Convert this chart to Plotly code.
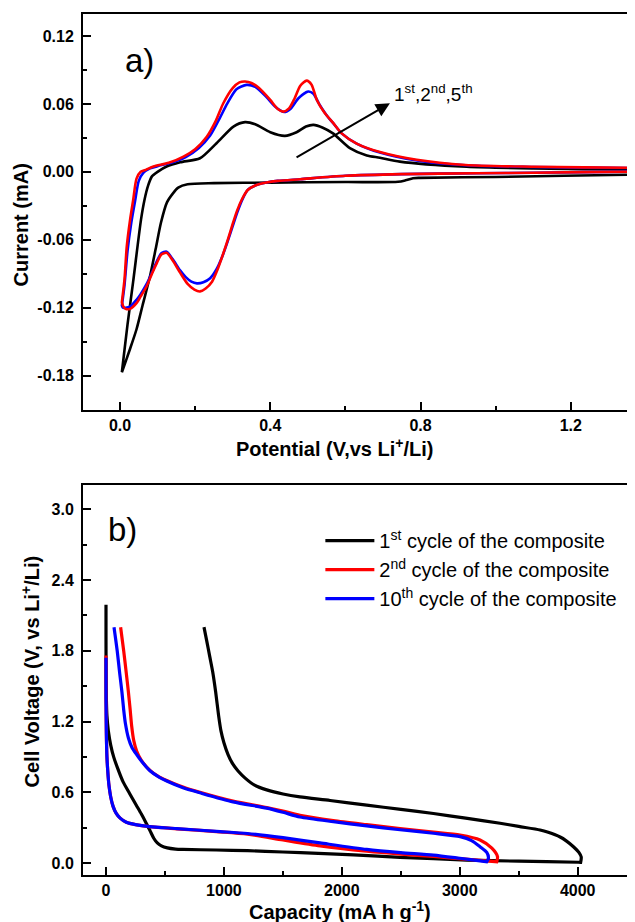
import plotly.graph_objects as go

# ---------------- (a) cyclic voltammetry ----------------
cv1_cath_v = [1.50, 1.37, 1.00, 0.80, 0.78, 0.76, 0.74, 0.60, 0.40, 0.25, 0.18, 0.155, 0.141, 0.125, 0.109, 0.095, 0.08, 0.06, 0.044, 0.025, 0.005]
cv1_cath_i = [-0.0022, -0.0025, -0.0045, -0.0053, -0.0056, -0.0075, -0.0088, -0.009, -0.0095, -0.010, -0.011, -0.014, -0.019, -0.027, -0.045, -0.068, -0.092, -0.118, -0.139, -0.158, -0.177]
cv1_anod_v = [0.005, 0.02, 0.035, 0.056, 0.065, 0.075, 0.085, 0.10, 0.124, 0.16, 0.213, 0.257, 0.302, 0.333, 0.36, 0.40, 0.439, 0.47, 0.495, 0.515, 0.54, 0.567, 0.612, 0.657, 0.692, 0.745, 0.923, 1.10, 1.37, 1.50]
cv1_anod_i = [-0.177, -0.135, -0.097, -0.042, -0.025, -0.012, -0.004, 0.0, 0.0047, 0.0085, 0.012, 0.0253, 0.040, 0.0439, 0.042, 0.035, 0.0318, 0.035, 0.040, 0.0415, 0.039, 0.034, 0.021, 0.0145, 0.0125, 0.009, 0.0045, 0.003, 0.002, 0.002]

cv2_cath_v = [1.50, 1.37, 1.10, 0.95, 0.75, 0.60, 0.48, 0.42, 0.39, 0.36, 0.34, 0.325, 0.312, 0.30, 0.288, 0.274, 0.26, 0.245, 0.228, 0.213, 0.198, 0.18, 0.16, 0.14, 0.124, 0.11, 0.098, 0.085, 0.071, 0.055, 0.044, 0.027, 0.015, 0.009, 0.005]
cv2_cath_i = [0.0, 0.0002, -0.0008, -0.0012, -0.002, -0.0035, -0.0065, -0.008, -0.0094, -0.012, -0.016, -0.024, -0.034, -0.046, -0.059, -0.073, -0.086, -0.097, -0.103, -0.1056, -0.104, -0.099, -0.089, -0.078, -0.0715, -0.073, -0.0806, -0.090, -0.101, -0.110, -0.116, -0.121, -0.121, -0.119, -0.115]
cv2_anod_v = [0.005, 0.012, 0.018, 0.027, 0.035, 0.044, 0.055, 0.07, 0.089, 0.13, 0.169, 0.20, 0.231, 0.255, 0.275, 0.30, 0.318, 0.333, 0.35, 0.37, 0.40, 0.42, 0.435, 0.45, 0.465, 0.48, 0.497, 0.51, 0.524, 0.545, 0.568, 0.59, 0.63, 0.692, 0.79, 0.92, 1.10, 1.37, 1.50]
cv2_anod_i = [-0.115, -0.095, -0.066, -0.042, -0.025, -0.006, 0.0, 0.002, 0.0047, 0.008, 0.0135, 0.020, 0.031, 0.045, 0.0606, 0.074, 0.079, 0.0798, 0.0785, 0.074, 0.0635, 0.0555, 0.0532, 0.056, 0.065, 0.076, 0.0806, 0.077, 0.0635, 0.052, 0.043, 0.034, 0.025, 0.0175, 0.0106, 0.006, 0.0045, 0.0035, 0.0032]

cv5_cath_v = [1.50, 1.37, 1.10, 0.95, 0.75, 0.60, 0.48, 0.42, 0.39, 0.36, 0.34, 0.325, 0.312, 0.30, 0.287, 0.272, 0.257, 0.24, 0.222, 0.205, 0.19, 0.175, 0.16, 0.14, 0.124, 0.11, 0.098, 0.085, 0.071, 0.055, 0.044, 0.027, 0.015, 0.008, 0.005]
cv5_cath_i = [0.0, 0.0002, -0.0008, -0.0012, -0.002, -0.0035, -0.0065, -0.008, -0.0094, -0.012, -0.016, -0.025, -0.036, -0.048, -0.061, -0.075, -0.086, -0.094, -0.0975, -0.0985, -0.097, -0.093, -0.087, -0.077, -0.0705, -0.072, -0.079, -0.089, -0.099, -0.108, -0.113, -0.119, -0.120, -0.120, -0.118]
cv5_anod_v = [0.005, 0.012, 0.02, 0.03, 0.04, 0.05, 0.062, 0.08, 0.10, 0.14, 0.175, 0.21, 0.24, 0.265, 0.285, 0.31, 0.337, 0.36, 0.39, 0.415, 0.437, 0.455, 0.475, 0.501, 0.515, 0.53, 0.55, 0.57, 0.59, 0.63, 0.692, 0.79, 0.92, 1.10, 1.37, 1.50]
cv5_anod_i = [-0.118, -0.100, -0.070, -0.045, -0.026, -0.008, -0.001, 0.003, 0.005, 0.0085, 0.013, 0.021, 0.032, 0.047, 0.060, 0.073, 0.0768, 0.075, 0.066, 0.057, 0.0528, 0.056, 0.065, 0.0709, 0.069, 0.060, 0.050, 0.042, 0.034, 0.025, 0.017, 0.010, 0.0058, 0.0043, 0.0033, 0.003]

# ---------------- (b) charge / discharge ----------------
gcd1_dis_cap = [0, 0, 1, 3, 8, 20, 40, 65, 100, 144, 200, 257, 300, 340, 375, 405, 435, 470, 520, 590, 650, 936, 1200, 1500, 1800, 2100, 2494, 3059, 3500, 4006, 4025]
gcd1_dis_v = [2.19, 1.90, 1.60, 1.40, 1.25, 1.12, 1.00, 0.90, 0.80, 0.69, 0.59, 0.49, 0.415, 0.34, 0.27, 0.21, 0.17, 0.145, 0.128, 0.118, 0.115, 0.110, 0.104, 0.093, 0.082, 0.068, 0.048, 0.025, 0.015, 0.006, 0.005]
gcd1_chg_cap = [4025, 4030, 4010, 3964, 3900, 3851, 3750, 3681, 3500, 3342, 3050, 2777, 2500, 2211, 1900, 1645, 1501, 1363, 1260, 1180, 1120, 1075, 1035, 1000, 975, 955, 930, 905, 880, 855, 831]
gcd1_chg_v = [0.005, 0.05, 0.09, 0.138, 0.19, 0.22, 0.26, 0.28, 0.31, 0.337, 0.38, 0.42, 0.455, 0.49, 0.53, 0.56, 0.585, 0.62, 0.66, 0.72, 0.78, 0.84, 0.92, 1.02, 1.12, 1.25, 1.45, 1.62, 1.75, 1.88, 2.00]

gcd2_dis_cap = [0, 0, 3, 8, 15, 25, 40, 60, 87, 120, 172, 250, 370, 600, 936, 1200, 1501, 1815, 2211, 2500, 2777, 3100, 3314]
gcd2_dis_v = [1.76, 1.40, 1.10, 0.90, 0.78, 0.66, 0.56, 0.48, 0.42, 0.38, 0.345, 0.325, 0.308, 0.29, 0.266, 0.245, 0.195, 0.145, 0.10, 0.075, 0.055, 0.028, 0.011]
gcd2_chg_cap = [3314, 3320, 3272, 3172, 3003, 2777, 2494, 2211, 1928, 1645, 1501, 1363, 1077, 797, 653, 515, 450, 373, 300, 260, 235, 218, 205, 190, 172, 150, 124]
gcd2_chg_v = [0.011, 0.053, 0.125, 0.195, 0.237, 0.262, 0.292, 0.325, 0.36, 0.405, 0.44, 0.47, 0.525, 0.60, 0.645, 0.70, 0.73, 0.785, 0.87, 0.95, 1.04, 1.16, 1.30, 1.45, 1.61, 1.80, 2.00]

gcd10_dis_cap = [0, 0, 3, 8, 15, 25, 40, 60, 87, 120, 172, 250, 370, 600, 936, 1200, 1501, 1815, 2211, 2500, 2777, 3000, 3229]
gcd10_dis_v = [1.74, 1.40, 1.10, 0.90, 0.78, 0.66, 0.56, 0.48, 0.42, 0.38, 0.345, 0.325, 0.308, 0.292, 0.268, 0.25, 0.215, 0.17, 0.115, 0.088, 0.067, 0.04, 0.011]
gcd10_chg_cap = [3229, 3243, 3229, 3172, 3100, 3003, 2777, 2494, 2211, 1928, 1645, 1501, 1363, 1077, 797, 653, 515, 450, 373, 300, 260, 220, 190, 165, 150, 135, 116, 95, 68]
gcd10_chg_v = [0.011, 0.04, 0.09, 0.138, 0.19, 0.223, 0.252, 0.282, 0.315, 0.35, 0.39, 0.43, 0.465, 0.518, 0.595, 0.638, 0.695, 0.728, 0.782, 0.865, 0.92, 0.98, 1.06, 1.18, 1.30, 1.45, 1.61, 1.80, 2.00]

# ---------------- tick labels ----------------
cv_x_ticks = [0.0, 0.4, 0.8, 1.2]
cv_x_labels = ["0.0", "0.4", "0.8", "1.2"]
cv_x_minor = [0.2, 0.6, 1.0]
cv_y_ticks = [-0.18, -0.12, -0.06, 0.0, 0.06, 0.12]
cv_y_labels = ["-0.18", "-0.12", "-0.06", "0.00", "0.06", "0.12"]
cv_y_minor = [-0.21, -0.15, -0.09, -0.03, 0.03, 0.09]
gcd_x_ticks = [0, 1000, 2000, 3000, 4000]
gcd_x_labels = ["0", "1000", "2000", "3000", "4000"]
gcd_x_minor = [500, 1500, 2500, 3500]
gcd_y_ticks = [0.0, 0.6, 1.2, 1.8, 2.4, 3.0]
gcd_y_labels = ["0.0", "0.6", "1.2", "1.8", "2.4", "3.0"]
gcd_y_minor = [0.3, 0.9, 1.5, 2.1, 2.7]

legend_names = ["1<sup>st</sup> cycle of the composite",
                "2<sup>nd</sup> cycle of the composite",
                "10<sup>th</sup> cycle of the composite"]
colors = ["#000000", "#ff0000", "#0000ff"]

FONT = "Arial, Liberation Sans, sans-serif"

fig = go.Figure()

cv_sets = [
    (cv1_cath_v + cv1_anod_v, cv1_cath_i + cv1_anod_i, colors[0]),
    (cv5_cath_v + cv5_anod_v, cv5_cath_i + cv5_anod_i, colors[2]),
    (cv2_cath_v + cv2_anod_v, cv2_cath_i + cv2_anod_i, colors[1]),
]
for xv, yv, c in cv_sets:
    fig.add_trace(go.Scatter(x=xv, y=yv, mode="lines", line=dict(color=c, width=2.6, shape="spline", smoothing=0.7),
                             showlegend=False, xaxis="x", yaxis="y", hoverinfo="skip"))

gcd_sets = [
    (gcd1_dis_cap + gcd1_chg_cap, gcd1_dis_v + gcd1_chg_v, colors[0], legend_names[0]),
    (gcd2_dis_cap + gcd2_chg_cap, gcd2_dis_v + gcd2_chg_v, colors[1], legend_names[1]),
    (gcd10_dis_cap + gcd10_chg_cap, gcd10_dis_v + gcd10_chg_v, colors[2], legend_names[2]),
]
for xv, yv, c, nm in gcd_sets:
    fig.add_trace(go.Scatter(x=xv, y=yv, mode="lines", name=nm,
                             line=dict(color=c, width=3.2, shape="spline", smoothing=0.7),
                             xaxis="x2", yaxis="y2", hoverinfo="skip"))

tickfont = dict(family=FONT, size=16, color="black", weight="bold")
axis_common = dict(showline=True, linecolor="black", linewidth=2, ticks="inside", ticklen=8, tickwidth=2,
                   tickcolor="black", tickfont=tickfont, showgrid=False, zeroline=False, tickmode="array")


def minor(vals):
    return dict(tickmode="array", tickvals=vals, ticks="inside", ticklen=4, tickwidth=2, tickcolor="black", showgrid=False)


# page body has an 8px margin: figure is shifted so the plot areas land where the reference has them
fig.update_layout(
    width=627, height=914,
    margin=dict(l=75, r=0, t=6, b=47),
    paper_bgcolor="white", plot_bgcolor="white",
    font=dict(family=FONT, color="black"),
    xaxis=dict(domain=[0, 1], anchor="y", range=[-0.0985, 1.371], tickvals=cv_x_ticks, ticktext=cv_x_labels,
               mirror=True, ticklabelstandoff=0, minor=minor(cv_x_minor), **axis_common),
    yaxis=dict(domain=[0.5401, 1], anchor="x", range=[-0.2103, 0.1394], tickvals=cv_y_ticks, ticktext=cv_y_labels,
               mirror=False, ticklabelstandoff=4, minor=minor(cv_y_minor), **axis_common),
    xaxis2=dict(domain=[0, 0.99638], anchor="y2", range=[-195, 4469], tickvals=gcd_x_ticks, ticktext=gcd_x_labels,
                mirror=True, ticklabelstandoff=0, minor=minor(gcd_x_minor), **axis_common),
    yaxis2=dict(domain=[0, 0.45296], anchor="x2", range=[-0.102, 3.206], tickvals=gcd_y_ticks, ticktext=gcd_y_labels,
                mirror=True, ticklabelstandoff=4, minor=minor(gcd_y_minor), **axis_common),
    legend=dict(x=0.430, y=0.411, xanchor="left", yanchor="top", bgcolor="rgba(0,0,0,0)",
                font=dict(family=FONT, size=20, color="black"), tracegroupgap=0, itemwidth=49),
    showlegend=True,
)

title_font = dict(family=FONT, size=20, color="black", weight="bold")
annotations = [
    dict(text="Current (mA)", xref="paper", yref="paper", x=-0.1123, y=0.7544, textangle=-90,
         showarrow=False, font=title_font, xanchor="center", yanchor="middle"),
    dict(text="Potential (V,vs Li<sup>+</sup>/Li)", xref="paper", yref="paper", x=0.4565, y=0.497,
         showarrow=False, font=title_font, xanchor="center", yanchor="middle"),
    dict(text="Cell Voltage (V, vs Li<sup>+</sup>/Li)", xref="paper", yref="paper", x=-0.096, y=0.2364,
         textangle=-90, showarrow=False, font=title_font, xanchor="center", yanchor="middle"),
    dict(text="Capacity (mA h g<sup>-1</sup>)", xref="paper", yref="paper", x=0.4650, y=-0.0408,
         showarrow=False, font=title_font, xanchor="center", yanchor="middle"),
    dict(text="a)", xref="x", yref="y", x=0.053, y=0.098, showarrow=False,
         font=dict(family=FONT, size=33, color="black"), xanchor="center", yanchor="middle"),
    dict(text="b)", xref="x2", yref="y2", x=136, y=2.83, showarrow=False,
         font=dict(family=FONT, size=33, color="black"), xanchor="center", yanchor="middle"),
    dict(text="1<sup>st</sup>,2<sup>nd</sup>,5<sup>th</sup>", xref="x", yref="y", x=0.724, y=0.0698,
         showarrow=False, font=dict(family=FONT, size=19, color="black"), xanchor="left", yanchor="middle"),
    dict(text="", xref="x", yref="y", x=0.7186, y=0.0606, axref="x", ayref="y", ax=0.466, ay=0.0121,
         showarrow=True, arrowhead=2, arrowsize=1.4, arrowwidth=2, arrowcolor="black"),
]
fig.update_layout(annotations=annotations)

fig.write_html("out.html")
